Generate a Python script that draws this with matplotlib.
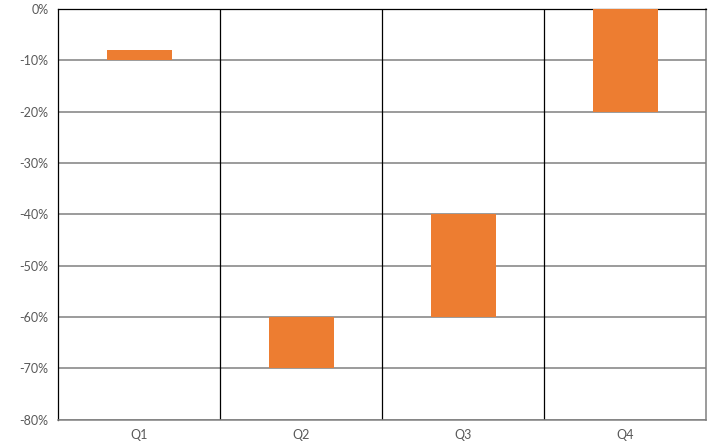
import matplotlib
matplotlib.use('Agg')
import matplotlib.pyplot as plt
from matplotlib.ticker import FuncFormatter

plt.rcParams['font.family'] = ['Lato', 'DejaVu Sans']

quarters = ['Q1', 'Q2', 'Q3', 'Q4']
upper = [-8, -60, -40, 0]
lower = [-10, -70, -60, -20]

fig, ax = plt.subplots(figsize=(7.2, 4.48), dpi=100)
fig.subplots_adjust(left=0.081, right=0.981, top=0.98, bottom=0.063)

x = range(len(quarters))
heights = [u - l for u, l in zip(upper, lower)]
ax.bar(x, heights, bottom=lower, width=0.4, color='#ED7D31', zorder=3)

ax.set_xlim(-0.5, len(quarters) - 0.5)
ax.set_ylim(-80, 0)
ax.set_yticks(range(-80, 1, 10))
ax.yaxis.set_major_formatter(FuncFormatter(lambda v, p: f'{int(v)}%'))
ax.set_xticks(list(x))
ax.set_xticklabels(quarters)

ax.yaxis.grid(True, color='#808080', linewidth=1.1, zorder=1)
for b in [0.5, 1.5, 2.5]:
    ax.axvline(b, color='black', linewidth=0.9, zorder=2)

for side in ['left', 'top']:
    ax.spines[side].set_color('black')
    ax.spines[side].set_linewidth(0.9)
for side in ['right', 'bottom']:
    ax.spines[side].set_color('#808080')
    ax.spines[side].set_linewidth(1.1)

ax.tick_params(length=0, labelsize=9, colors='#595959', pad=7)

fig.savefig('out.png', dpi=100)
